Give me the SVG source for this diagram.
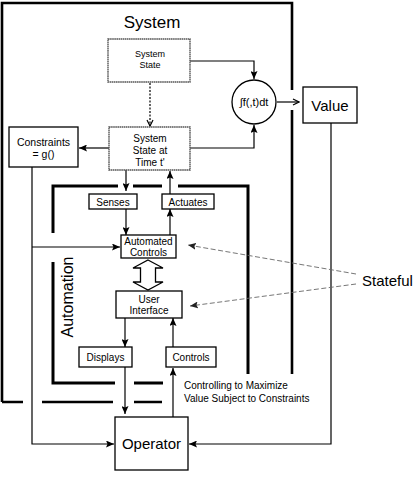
<svg xmlns="http://www.w3.org/2000/svg" width="417" height="486" viewBox="0 0 417 486">
<style>
text{font-family:"Liberation Sans",Arial,sans-serif;fill:#000;text-anchor:middle}
.box{fill:#fff;stroke:#000;stroke-width:1.3}
.gbox{fill:#fff;stroke:#555;stroke-width:1.4;stroke-dasharray:1.6 0.5}
.ln{fill:none;stroke:#000;stroke-width:1.2}
.frame{fill:none;stroke:#000;stroke-width:2.6}
.aframe{fill:none;stroke:#000;stroke-width:3}
.dash{fill:none;stroke:#666;stroke-width:0.9;stroke-dasharray:5 2.5}
.s9{font-size:9px}
.s10{font-size:10px}
</style>
<defs>
<marker id="ah" viewBox="0 0 8 7" refX="8" refY="3.5" markerWidth="8" markerHeight="7" orient="auto" markerUnits="userSpaceOnUse"><path d="M0,0 L8,3.5 L0,7 L1.5,3.5 z" fill="#000"/></marker>
<marker id="av" viewBox="0 0 8 8" refX="7" refY="4" markerWidth="8" markerHeight="8" orient="auto" markerUnits="userSpaceOnUse"><path d="M1,1 L7,4 L1,7" fill="none" stroke="#000" stroke-width="1.2"/></marker>
<marker id="ag" viewBox="0 0 8 7" refX="8" refY="3.5" markerWidth="8" markerHeight="7" orient="auto" markerUnits="userSpaceOnUse"><path d="M0,0 L8,3.5 L0,7 L1.5,3.5 z" fill="#222"/></marker>
</defs>

<g id="frames">
<path class="frame" d="M2,402 V3 H292 V90 M292,110 V374 M2,402 H23 M42,402 H113 M134,402 H162"/>
<path class="aframe" d="M53,233 V186 H118 M133,186 H162 M178,186 H248 V374 M53,262 V383 H115 M134,383 H163"/>
<text x="152" y="28" style="font-size:17px">System</text>
<text x="0" y="0" style="font-size:16px" transform="translate(73,297) rotate(-90)">Automation</text>
</g>

<g id="connectors">
<path class="ln" d="M190,61 H254 V79" marker-end="url(#ah)"/>
<path class="ln" d="M190,148 H254 V125" marker-end="url(#ah)"/>
<path class="ln" d="M277,102 H299" marker-end="url(#av)"/>
<path class="ln" d="M150,83 V126" stroke-dasharray="2 1.5" marker-end="url(#av)"/>
<path class="ln" d="M109,148 H79" marker-end="url(#ah)"/>
<path class="ln" d="M32,167 V444 H114" marker-end="url(#ah)"/>
<path class="ln" d="M32,247 H120" marker-end="url(#ah)"/>
<path class="ln" d="M126,170 V191" marker-end="url(#ah)"/>
<path class="ln" d="M170,194 V171" marker-end="url(#ah)"/>
<path class="ln" d="M126,209 V235" marker-end="url(#ah)"/>
<path class="ln" d="M170,235 V209" marker-end="url(#ah)"/>
<path class="ln" d="M125,318 V347" marker-end="url(#ah)"/>
<path class="ln" d="M125,367 V414" marker-end="url(#ah)"/>
<path class="ln" d="M173,347 V318" marker-end="url(#ah)"/>
<path class="ln" d="M173,417 V368" marker-end="url(#ah)"/>
<path class="ln" d="M331,123 V444 H189" marker-end="url(#ah)"/>
<path class="dash" d="M356,274 L188,245" marker-end="url(#ag)"/>
<path class="dash" d="M356,284 L190,306" marker-end="url(#ag)"/>
<path d="M148,260 L163,268 L155.5,268 L155.5,282 L163,282 L148,290 L133,282 L140.5,282 L140.5,268 L133,268 Z" fill="#fff" stroke="#000" stroke-width="1.3"/>
</g>

<g id="system-state">
<rect class="gbox" x="108" y="39" width="82" height="43"/>
<text class="s9" x="150" y="57">System</text>
<text class="s9" x="150" y="68">State</text>
</g>

<g id="system-state-time">
<rect class="gbox" x="109" y="127" width="81" height="43"/>
<text class="s10" x="150" y="142">System</text>
<text class="s10" x="150" y="154">State at</text>
<text class="s10" x="150" y="166">Time t'</text>
</g>

<g id="integral">
<circle cx="254" cy="102" r="22" fill="#fff" stroke="#000" stroke-width="1.3"/>
<text x="254" y="106" style="font-size:11px">∫f(,t)dt</text>
</g>

<g id="value">
<rect class="box" x="303" y="87" width="54" height="36"/>
<text x="330" y="111" style="font-size:15px">Value</text>
</g>

<g id="constraints">
<rect class="box" x="9" y="127" width="69" height="40"/>
<text x="43.5" y="146" style="font-size:10.5px">Constraints</text>
<text x="43.5" y="158" style="font-size:10.5px">= g()</text>
</g>

<g id="senses">
<rect class="box" x="89" y="194" width="48" height="15"/>
<text class="s10" x="113" y="205.5">Senses</text>
</g>

<g id="actuates">
<rect class="box" x="162" y="194" width="52" height="15"/>
<text class="s10" x="188" y="205.5">Actuates</text>
</g>

<g id="automated-controls">
<rect class="box" x="121" y="235" width="55" height="23"/>
<text class="s10" x="148.5" y="245">Automated</text>
<text class="s10" x="148.5" y="256">Controls</text>
</g>

<g id="user-interface">
<rect class="box" x="116" y="291" width="66" height="27"/>
<text class="s10" x="149" y="302.5">User</text>
<text class="s10" x="149" y="314">Interface</text>
</g>

<g id="displays">
<rect class="box" x="79" y="347" width="53" height="20"/>
<text class="s10" x="105.5" y="361">Displays</text>
</g>

<g id="controls">
<rect class="box" x="166" y="347" width="50" height="20"/>
<text class="s10" x="191" y="361">Controls</text>
</g>

<g id="operator">
<rect class="box" x="115" y="417" width="73" height="53"/>
<text x="151.5" y="449" style="font-size:15px">Operator</text>
</g>

<g id="stateful">
<text x="362" y="286" style="font-size:15px;text-anchor:start">Stateful</text>
</g>

<g id="caption">
<text class="s10" x="184" y="389" style="text-anchor:start">Controlling to Maximize</text>
<text class="s10" x="184" y="402" style="text-anchor:start">Value Subject to Constraints</text>
</g>
</svg>
